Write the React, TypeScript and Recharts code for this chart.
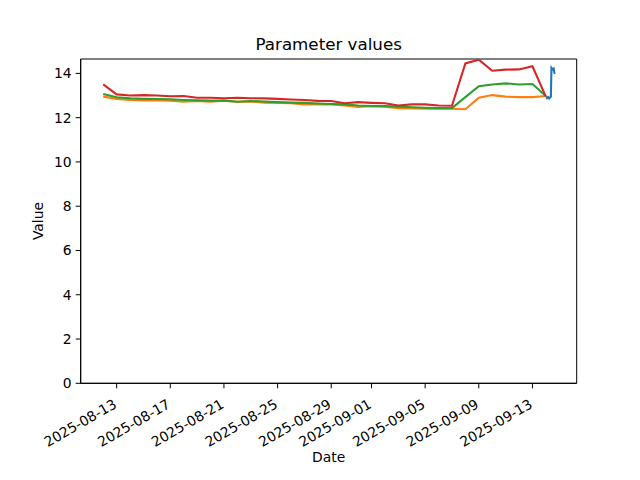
import React from 'react';
import { LineChart, Line, XAxis, YAxis, ReferenceArea } from 'recharts';

const dates = [
  '2025-08-12', '2025-08-13', '2025-08-14', '2025-08-15', '2025-08-16', '2025-08-17', '2025-08-18',
  '2025-08-19', '2025-08-20', '2025-08-21', '2025-08-22', '2025-08-23', '2025-08-24', '2025-08-25',
  '2025-08-26', '2025-08-27', '2025-08-28', '2025-08-29', '2025-08-30', '2025-08-31', '2025-09-01',
  '2025-09-02', '2025-09-03', '2025-09-04', '2025-09-05', '2025-09-06', '2025-09-07', '2025-09-08',
  '2025-09-09', '2025-09-10', '2025-09-11', '2025-09-12', '2025-09-13', '2025-09-14',
];

const orangeValues = [
  12.95, 12.85, 12.8, 12.78, 12.78, 12.77, 12.72, 12.75, 12.72, 12.77, 12.72, 12.73, 12.68, 12.66,
  12.65, 12.6, 12.6, 12.6, 12.55, 12.48, 12.52, 12.5, 12.43, 12.42, 12.4, 12.4, 12.4, 12.38,
  12.9, 13.02, 12.95, 12.93, 12.93, 12.98,
];

const greenValues = [
  13.07, 12.92, 12.87, 12.85, 12.84, 12.83, 12.8, 12.78, 12.77, 12.77, 12.72, 12.75, 12.73, 12.7,
  12.68, 12.67, 12.64, 12.62, 12.6, 12.55, 12.53, 12.52, 12.5, 12.47, 12.45, 12.43, 12.43, 12.93,
  13.42, 13.5, 13.55, 13.5, 13.52, 12.98,
];

const redValues = [
  13.5, 13.05, 13.0, 13.02, 13.0, 12.97, 12.98, 12.9, 12.9, 12.88, 12.9, 12.88, 12.87, 12.85,
  12.82, 12.8, 12.76, 12.75, 12.65, 12.7, 12.67, 12.65, 12.55, 12.6, 12.6, 12.55, 12.54, 14.45,
  14.62, 14.12, 14.17, 14.18, 14.32, 12.95,
];

const blueTimes = [
  '2025-09-14T00:00', '2025-09-14T01:00', '2025-09-14T02:00', '2025-09-14T03:00', '2025-09-14T04:00',
  '2025-09-14T05:00', '2025-09-14T06:00', '2025-09-14T07:00', '2025-09-14T08:00', '2025-09-14T09:00',
  '2025-09-14T10:00', '2025-09-14T11:00', '2025-09-14T12:00', '2025-09-14T13:00', '2025-09-14T14:00',
  '2025-09-14T15:00', '2025-09-14T16:00',
];
const blueValues = [
  12.93, 12.92, 12.88, 12.9, 12.93, 12.91, 12.87, 12.9, 12.92, 12.94, 14.25, 14.22, 14.18, 14.2,
  14.22, 14.05, 13.98,
];

const xTickLabels = [
  '2025-08-13', '2025-08-17', '2025-08-21', '2025-08-25', '2025-08-29', '2025-09-01', '2025-09-05',
  '2025-09-09', '2025-09-13',
];
const yTickValues = [0, 2, 4, 6, 8, 10, 12, 14];

const DAY = 86400000;
const toTime = (s: string) => Date.parse(s.length === 10 ? s + 'T00:00:00Z' : s + ':00Z');

const dailyData = dates.map((d, i) => ({
  t: toTime(d),
  orange: orangeValues[i],
  green: greenValues[i],
  red: redValues[i],
}));
const blueData = blueTimes.map((d, i) => ({ t: toTime(d), blue: blueValues[i] }));
const xTicks = xTickLabels.map(toTime);
const t0 = toTime(dates[0]);
const xDomain = [t0 - 1.68 * DAY, t0 + 35.3 * DAY];
const yDomain = [0, 14.65];

const FONT = 'DejaVu Sans';
const fmt = (t: number) => new Date(t).toISOString().slice(0, 10);

const XTick = (props: any) => {
  const { x, payload } = props;
  const bx = x + 1;
  const by = 407;
  return (
    <text
      x={bx}
      y={by}
      textAnchor="end"
      transform={`rotate(-30, ${bx}, ${by})`}
      fontFamily={FONT}
      fontSize={13.9}
      fill="#000"
    >
      {fmt(payload.value)}
    </text>
  );
};

export default function App() {
  return (
    <div style={{ position: 'absolute', left: 0, top: 0, width: 640, height: 480, background: '#fff' }}>
      <LineChart
        width={640}
        height={480}
        margin={{ top: 59, right: 63.3, bottom: 0, left: 0 }}
      >
        <XAxis
          dataKey="t"
          type="number"
          domain={xDomain}
          ticks={xTicks}
          allowDataOverflow
          height={96.7}
          tickSize={5}
          tickMargin={0}
          tick={<XTick />}
          axisLine={{ stroke: '#000', strokeWidth: 1 }}
          tickLine={{ stroke: '#000', strokeWidth: 1 }}
          interval={0}
        />
        <YAxis
          type="number"
          domain={yDomain}
          ticks={yTickValues}
          allowDataOverflow
          width={80.7}
          tickSize={5}
          tickMargin={4}
          interval={0}
          tick={{ fontFamily: FONT, fontSize: 13.9, fill: '#000' }}
          axisLine={{ stroke: '#000', strokeWidth: 1 }}
          tickLine={{ stroke: '#000', strokeWidth: 1 }}
        />
        <ReferenceArea
          x1={xDomain[0]}
          x2={xDomain[1]}
          y1={yDomain[0]}
          y2={yDomain[1]}
          fill="none"
          fillOpacity={0}
          stroke="#000"
          strokeWidth={1}
          ifOverflow="visible"
        />
        <Line data={blueData} dataKey="blue" type="linear" stroke="#1f77b4" strokeWidth={2.1} dot={false} isAnimationActive={false} />
        <Line data={dailyData} dataKey="orange" type="linear" stroke="#ff7f0e" strokeWidth={2.1} dot={false} isAnimationActive={false} />
        <Line data={dailyData} dataKey="green" type="linear" stroke="#2ca02c" strokeWidth={2.1} dot={false} isAnimationActive={false} />
        <Line data={dailyData} dataKey="red" type="linear" stroke="#d62728" strokeWidth={2.1} dot={false} isAnimationActive={false} />
      </LineChart>
      <svg
        width={640}
        height={480}
        style={{ position: 'absolute', left: 0, top: 0, pointerEvents: 'none' }}
      >
        <text x={328.7} y={50} textAnchor="middle" fontFamily={FONT} fontSize={16.7} fill="#000">
          Parameter values
        </text>
        <text x={328.7} y={462} textAnchor="middle" fontFamily={FONT} fontSize={13.9} fill="#000">
          Date
        </text>
        <text
          x={43}
          y={221}
          textAnchor="middle"
          transform="rotate(-90, 43, 221)"
          fontFamily={FONT}
          fontSize={13.9}
          fill="#000"
        >
          Value
        </text>
      </svg>
    </div>
  );
}
